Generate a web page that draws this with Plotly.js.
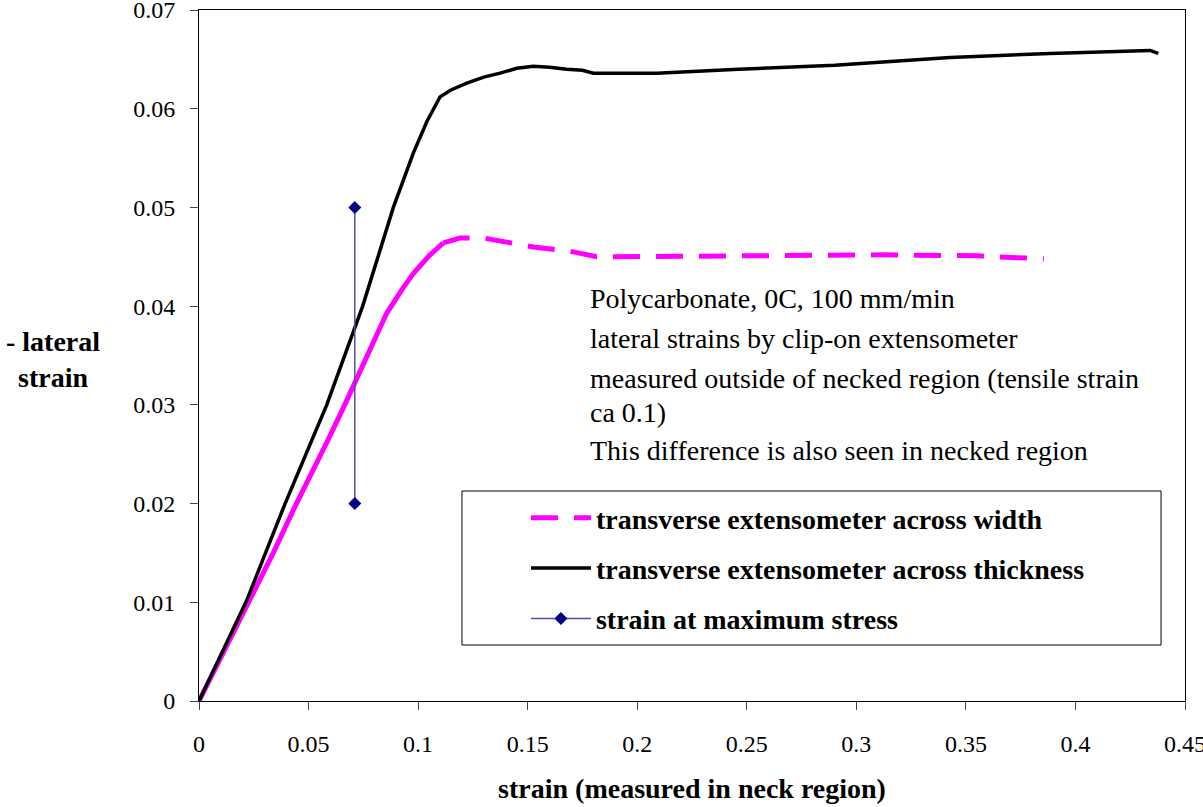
<!DOCTYPE html>
<html>
<head>
<meta charset="utf-8">
<script src="https://cdn.plot.ly/plotly-3.0.1.min.js"></script>
<style>html,body{margin:0;padding:0;background:#fff;}#chart{width:1203px;height:807px;}</style>
</head>
<body>
<div id="chart"></div>
<script>
// ---- data ----
const thicknessX = [0, 0.01, 0.0218, 0.0393, 0.0583, 0.0747, 0.0887, 0.0978, 0.104, 0.110, 0.115, 0.1222, 0.130, 0.1374, 0.145, 0.1526, 0.160, 0.1678, 0.175, 0.180, 0.2089, 0.2462, 0.2901, 0.3428, 0.3884, 0.4340, 0.4378];
const thicknessY = [0, 0.0047, 0.0102, 0.0200, 0.0300, 0.0400, 0.0500, 0.0555, 0.0587, 0.0612, 0.0619, 0.0626, 0.0632, 0.0636, 0.0641, 0.0643, 0.0642, 0.0640, 0.0639, 0.0636, 0.0636, 0.0640, 0.0644, 0.0652, 0.0656, 0.0659, 0.0656];

// width extensometer: dense rising part, then sparser part
const widthRiseX = [0, 0.0225, 0.0339, 0.0438, 0.0522, 0.0590, 0.0665, 0.0757, 0.0857, 0.0930, 0.0978, 0.1050, 0.1115];
const widthRiseY = [0, 0.0100, 0.0150, 0.0197, 0.0234, 0.0265, 0.0300, 0.0345, 0.0393, 0.0418, 0.0433, 0.0451, 0.0464];
const widthTailX = [0.1115, 0.1191, 0.1298, 0.1526, 0.1708, 0.1815, 0.1892, 0.2462, 0.3120, 0.3559, 0.3624, 0.3856];
const widthTailY = [0.0464, 0.0469, 0.0469, 0.0460, 0.0455, 0.0450, 0.0450, 0.0451, 0.0452, 0.0451, 0.0450, 0.0448];

const maxStressX = [0.0711, 0.0711];
const maxStressY = [0.02, 0.05];

const xTicks = [0, 0.05, 0.1, 0.15, 0.2, 0.25, 0.3, 0.35, 0.4, 0.45];
const xTickText = ['0', '0.05', '0.1', '0.15', '0.2', '0.25', '0.3', '0.35', '0.4', '0.45'];
const yTicks = [0, 0.01, 0.02, 0.03, 0.04, 0.05, 0.06, 0.07];
const yTickText = ['0', '0.01', '0.02', '0.03', '0.04', '0.05', '0.06', '0.07'];

const noteLines = [
  'Polycarbonate, 0C, 100 mm/min',
  'lateral strains by clip-on extensometer',
  'measured outside of necked region (tensile strain',
  'ca 0.1)',
  'This difference is also seen in necked region'
];
const noteY = [0.5832, 0.5239, 0.4674, 0.4182, 0.3632];

const SERIF = 'Liberation Serif';

const traces = [
  {x: widthTailX, y: widthTailY, type: 'scatter', mode: 'lines',
   name: 'transverse extensometer across width', legendgroup: 'a',
   line: {color: '#ff00ff', width: 5, dash: '27px,16px'}},
  {x: widthRiseX, y: widthRiseY, type: 'scatter', mode: 'lines',
   name: 'transverse extensometer across width', legendgroup: 'a', showlegend: false,
   line: {color: '#ff00ff', width: 5}},
  {x: thicknessX, y: thicknessY, type: 'scatter', mode: 'lines',
   name: 'transverse extensometer across thickness', legendgroup: 'b',
   line: {color: '#000000', width: 3.5}},
  {x: maxStressX, y: maxStressY, type: 'scatter', mode: 'lines+markers',
   name: 'strain at maximum stress', legendgroup: 'c',
   line: {color: '#5050a8', width: 1.5},
   marker: {symbol: 'diamond', size: 10, color: '#000080'}}
];

const axisCommon = {
  showgrid: false, zeroline: false, showline: true, linecolor: '#000', linewidth: 1,
  mirror: true, ticks: 'outside', ticklen: 8, tickcolor: '#444', tickwidth: 1,
  ticklabeloverflow: 'allow',
  tickfont: {family: SERIF, size: 24, color: '#000'}, fixedrange: true
};

const annotations = noteLines.map((t, i) => ({
  text: t, xref: 'paper', yref: 'paper', x: 0.3945, y: noteY[i],
  xanchor: 'left', yanchor: 'middle', showarrow: false,
  font: {family: SERIF, size: 28, color: '#000'}
}));
annotations.push({
  text: '- lateral<br>strain', xref: 'paper', yref: 'paper', x: -0.1485, y: 0.4935,
  xanchor: 'center', yanchor: 'middle', showarrow: false, align: 'center',
  font: {family: SERIF, size: 28, color: '#000', weight: 'bold'}
});

const layout = {
  width: 1203, height: 807,
  margin: {l: 199, r: 18, t: 10, b: 106},
  paper_bgcolor: '#fff', plot_bgcolor: '#fff',
  showlegend: true,
  xaxis: Object.assign({}, axisCommon, {
    range: [0, 0.45], tickvals: xTicks, ticktext: xTickText, ticklabelstandoff: 13,
    title: {text: 'strain (measured in neck region)', standoff: 22,
            font: {family: SERIF, size: 28, color: '#000', weight: 'bold'}}
  }),
  yaxis: Object.assign({}, axisCommon, {
    range: [0, 0.07], tickvals: yTicks, ticktext: yTickText, ticklabelstandoff: 10
  }),
  xaxis2: {overlaying: 'x', anchor: 'y', range: [0, 0.45], tickvals: xTicks, ticks: 'inside',
           ticklen: 8, tickcolor: '#444', showticklabels: false, showline: false,
           showgrid: false, zeroline: false, fixedrange: true},
  yaxis2: {overlaying: 'y', anchor: 'x', range: [0, 0.07], tickvals: yTicks, ticks: 'inside',
           ticklen: 8, tickcolor: '#444', showticklabels: false, showline: false,
           showgrid: false, zeroline: false, fixedrange: true},
  legend: {
    x: 0.3316, y: 0.301, xanchor: 'left', yanchor: 'top',
    bgcolor: 'rgba(0,0,0,0)', borderwidth: 0, itemwidth: 60,
    traceorder: 'grouped', tracegroupgap: 11,
    font: {family: SERIF, size: 28, color: '#000', weight: 'bold'}
  },
  shapes: [
    {type: 'rect', xref: 'paper', yref: 'paper', x0: 0.2667, x1: 0.9757, y0: 0.081, y1: 0.3039,
     line: {color: '#000', width: 1}, fillcolor: 'rgba(0,0,0,0)', layer: 'below'}
  ],
  annotations: annotations
};

Plotly.newPlot('chart', traces, layout, {displayModeBar: false, staticPlot: true});
</script>
</body>
</html>
